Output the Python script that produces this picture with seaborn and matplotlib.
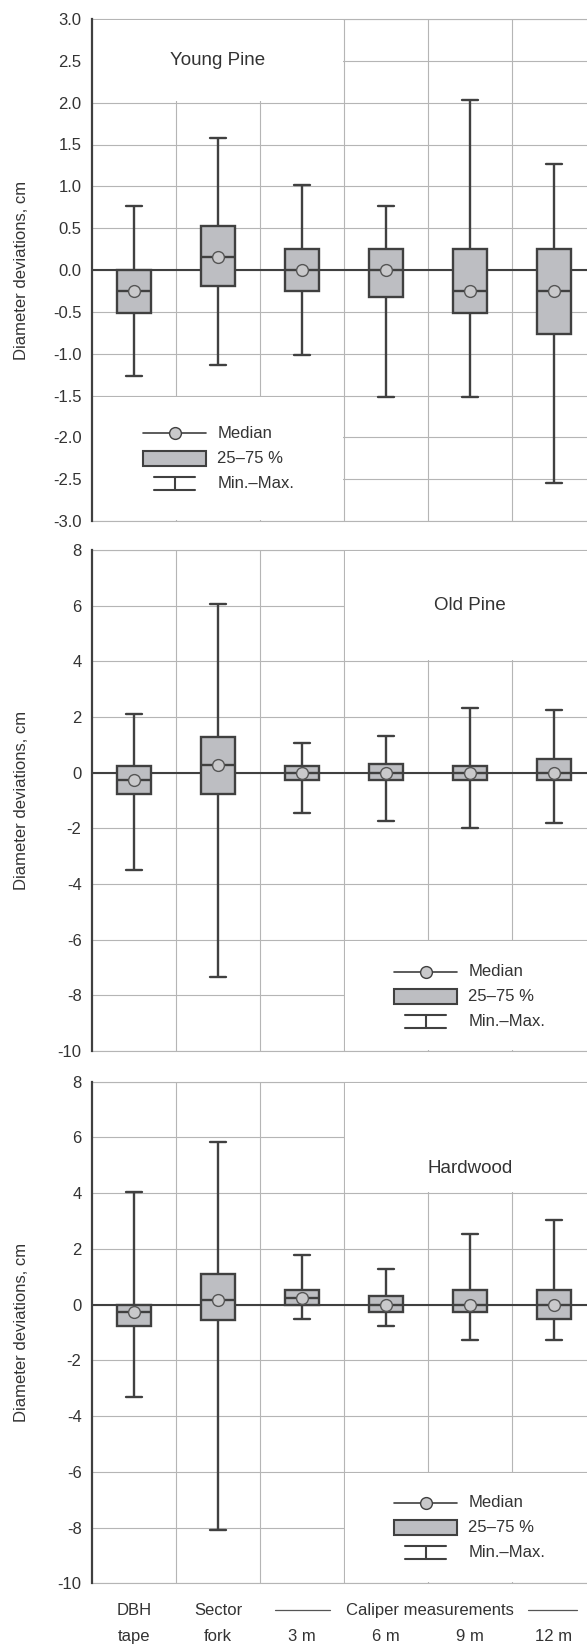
import matplotlib.pyplot as plt
import matplotlib.transforms as mtransforms
from matplotlib.patches import Rectangle
from matplotlib.ticker import FixedLocator, FormatStrFormatter
import numpy as np
import pandas as pd
import seaborn as sns

# Categories (x) shared by all three panels
categories = ["DBH tape", "Sector fork", "3 m", "6 m", "9 m", "12 m"]
# two-row axis labels under the bottom panel
label_top = ["DBH", "Sector"]
label_bottom = ["tape", "fork", "3 m", "6 m", "9 m", "12 m"]

# Young Pine: min, 25 %, median, 75 %, max (cm)
young_min = [-1.27, -1.14, -1.01, -1.52, -1.52, -2.54]
young_q1 = [-0.51, -0.19, -0.25, -0.32, -0.51, -0.76]
young_med = [-0.25, 0.15, 0.0, 0.0, -0.25, -0.25]
young_q3 = [0.0, 0.52, 0.25, 0.25, 0.25, 0.25]
young_max = [0.76, 1.58, 1.01, 0.76, 2.03, 1.27]

# Old Pine
old_min = [-3.5, -7.35, -1.45, -1.72, -1.98, -1.8]
old_q1 = [-0.78, -0.78, -0.28, -0.28, -0.28, -0.28]
old_med = [-0.25, 0.27, 0.0, 0.0, 0.0, 0.0]
old_q3 = [0.24, 1.28, 0.24, 0.3, 0.24, 0.5]
old_max = [2.1, 6.05, 1.08, 1.33, 2.34, 2.26]

# Hardwood
hard_min = [-3.3, -8.1, -0.51, -0.76, -1.27, -1.27]
hard_q1 = [-0.76, -0.56, 0.0, -0.26, -0.26, -0.51]
hard_med = [-0.25, 0.15, 0.25, 0.0, 0.0, 0.0]
hard_q3 = [0.0, 1.1, 0.51, 0.3, 0.51, 0.51]
hard_max = [4.05, 5.83, 1.78, 1.27, 2.54, 3.04]

DARK = "#404040"
BOX = "#bdbec2"
DOT = "#c9c9cb"
GRID = "#b5b5b5"
TEXT = "#333333"


def to_long(mins, q1, med, q3, maxs):
    # five summary values per category -> boxplot reproduces them exactly
    rows = []
    for i, cat in enumerate(categories):
        for v in (mins[i], q1[i], med[i], q3[i], maxs[i]):
            rows.append({"cat": cat, "value": v})
    return pd.DataFrame(rows)


def draw_key(ax, x0, y0):
    # legend drawn by hand: line+circle, grey box, I-beam
    t = ax.transAxes
    w = 0.128
    ax.plot([x0, x0 + w], [y0, y0], color=DARK, lw=1.2, transform=t, zorder=6)
    ax.plot([x0 + w / 2], [y0], "o", ms=8.5, mfc=DOT, mec=DARK, mew=1.0,
            transform=t, zorder=7)
    ax.add_patch(Rectangle((x0, y0 - 0.065), w, 0.03, facecolor=BOX,
                           edgecolor=DARK, lw=1.5, transform=t, zorder=6))
    cx0, cx1 = x0 + 0.022, x0 + 0.106
    ax.plot([cx0, cx1], [y0 - 0.087, y0 - 0.087], color=DARK, lw=1.5, transform=t, zorder=6)
    ax.plot([cx0, cx1], [y0 - 0.113, y0 - 0.113], color=DARK, lw=1.5, transform=t, zorder=6)
    ax.plot([x0 + w / 2, x0 + w / 2], [y0 - 0.087, y0 - 0.113], color=DARK, lw=1.5,
            transform=t, zorder=6)
    tx = x0 + w + 0.022
    ax.text(tx, y0, "Median", transform=t, va="center", fontsize=12, color=TEXT, zorder=7)
    ax.text(tx, y0 - 0.05, "25\u201375 %", transform=t, va="center", fontsize=12,
            color=TEXT, zorder=7)
    ax.text(tx, y0 - 0.1, "Min.\u2013Max.", transform=t, va="center", fontsize=12,
            color=TEXT, zorder=7)


def draw_panel(ax, df, title, title_xy, mask_title, mask_key, key_xy, ylim, yticks, fmt):
    sns.boxplot(data=df, x="cat", y="value", order=categories, whis=(0, 100),
                width=0.4, color=BOX, saturation=1, linecolor=DARK, linewidth=1.7,
                fliersize=0, ax=ax)
    sns.pointplot(data=df, x="cat", y="value", order=categories, estimator="median",
                  errorbar=None, linestyle="none", marker="o", color=DARK,
                  markersize=8.5, markerfacecolor=DOT, markeredgecolor="#555555",
                  markeredgewidth=1.0, zorder=5, ax=ax)

    ax.axhline(0, color=DARK, lw=1.5, zorder=1.5)
    ax.set_axisbelow(True)
    ax.set_xlim(-0.5, 5.393)
    ax.set_ylim(*ylim)
    ax.set_yticks(yticks)
    ax.yaxis.set_major_formatter(FormatStrFormatter(fmt))
    ax.xaxis.set_minor_locator(FixedLocator([0.5, 1.5, 2.5, 3.5, 4.5, 5.5]))
    ax.grid(True, axis="y", color=GRID, lw=0.8)
    ax.grid(True, axis="x", which="minor", color=GRID, lw=0.8)
    ax.grid(False, axis="x", which="major")
    # full-width grid lines at the top and bottom edges
    for yv in ylim:
        ax.axhline(yv, color=GRID, lw=0.8, clip_on=False, zorder=0.5)

    for side in ("top", "right", "bottom"):
        ax.spines[side].set_visible(False)
    ax.spines["left"].set_color(DARK)
    ax.spines["left"].set_linewidth(1.6)
    ax.tick_params(axis="y", length=5.5, width=1.5, color=DARK, labelsize=12,
                   labelcolor=TEXT, pad=2)
    ax.tick_params(axis="x", which="minor", length=5, width=1.5, color=DARK, direction="out")
    ax.tick_params(axis="x", which="major", length=0, labelsize=12, labelcolor=TEXT,
                   pad=33)

    # white patches that hide the grid behind titles and keys
    for (x0, x1, y0, y1) in (mask_title, mask_key):
        ax.add_patch(Rectangle((x0, y0), x1 - x0, y1 - y0, facecolor="white",
                               edgecolor="none", zorder=0.8))

    ax.text(title_xy[0], title_xy[1], title, ha="center", va="center",
            fontsize=13.5, color=TEXT, zorder=7)
    draw_key(ax, *key_xy)

    ax.set_xlabel("")
    ax.set_ylabel("Diameter deviations, cm", fontsize=12, color=TEXT)
    ax.yaxis.set_label_coords(-0.127, 0.5)


sns.set_theme(style="white")
plt.rcParams["font.family"] = ["Liberation Sans", "DejaVu Sans"]
plt.rcParams["axes.unicode_minus"] = False

fig = plt.figure(figsize=(5.87, 16.46), dpi=100)
left, width = 92 / 587, 1 - 92 / 587
ax1 = fig.add_axes([left, 1 - 521 / 1646, width, 502 / 1646])
ax2 = fig.add_axes([left, 1 - 1051 / 1646, width, 501 / 1646])
ax3 = fig.add_axes([left, 1 - 1583.3 / 1646, width, 501.6 / 1646])

draw_panel(ax1, to_long(young_min, young_q1, young_med, young_q3, young_max),
           "Young Pine", (1, 2.5),
           (-0.5, 2.485, 2.015, 2.985), (-0.5, 2.485, -2.985, -1.515),
           (0.103, 0.175), (-3.0, 3.0), np.arange(-3.0, 3.01, 0.5), "%.1f")
draw_panel(ax2, to_long(old_min, old_q1, old_med, old_q3, old_max),
           "Old Pine", (4, 6.0),
           (2.515, 5.6, 4.05, 7.95), (2.515, 5.6, -9.95, -6.05),
           (0.61, 0.158), (-10, 8), np.arange(-10, 8.1, 2), "%d")
draw_panel(ax3, to_long(hard_min, hard_q1, hard_med, hard_q3, hard_max),
           "Hardwood", (4, 4.9),
           (2.515, 5.6, 4.05, 7.95), (2.515, 5.6, -9.95, -6.05),
           (0.61, 0.161), (-10, 8), np.arange(-10, 8.1, 2), "%d")

for ax in (ax1, ax2):
    ax.set_xticklabels([])
ax3.set_xticks(range(len(categories)), label_bottom)

# first label row and the "Caliper measurements" group label with rules
blend = mtransforms.blended_transform_factory(ax3.transData, ax3.transAxes)
row1 = -0.054
for i, txt in enumerate(label_top):
    ax3.text(i, row1, txt, transform=blend, ha="center", va="center",
             fontsize=12, color=TEXT)
ax3.text(3.52, row1, "Caliper measurements", transform=blend, ha="center",
         va="center", fontsize=12, color=TEXT)
ax3.plot([1.68, 2.33], [row1, row1], color="#555555", lw=0.9, transform=blend,
         clip_on=False)
ax3.plot([4.69, 5.27], [row1, row1], color="#555555", lw=0.9, transform=blend,
         clip_on=False)

fig.savefig("out.png", dpi=100)
